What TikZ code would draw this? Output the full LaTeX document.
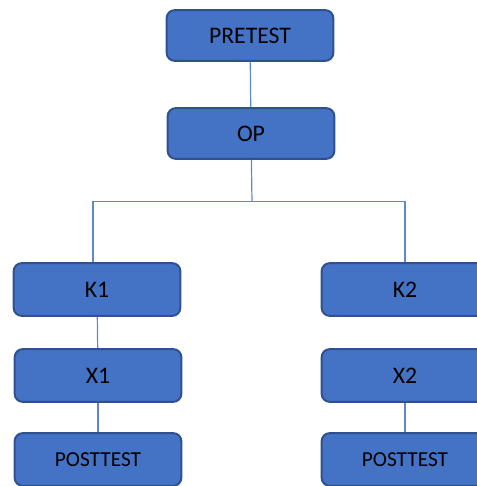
\documentclass[tikz,border=0pt]{standalone}
\usepackage{fontspec}
\setmainfont{Carlito}
\definecolor{boxblue}{HTML}{4472C4}
\definecolor{boxedge}{HTML}{2F528F}
\tikzset{stage/.style={draw=boxedge,fill=boxblue,line width=1.5pt,rounded corners=6pt,minimum width=125pt,minimum height=38pt,inner sep=0pt,font=\fontsize{17.8}{20}\selectfont},
small/.style={font=\fontsize{16}{18}\selectfont},
link/.style={draw=boxblue!85,line width=0.9pt}}

\begin{document}
\begin{tikzpicture}[x=0.75pt,y=-0.75pt]
\useasboundingbox (0,0) rectangle (477,486);
% Pré-test, puis OP qui se partage en deux branches K1 et K2.
\node[stage] (pre) at (250,35.5) {PRETEST};
\node[stage] (op) at (251,133.5) {OP};
\node[stage,minimum height=39.5pt] (k1) at (97,289.5) {K1};
\node[stage,minimum height=39.5pt] (k2) at (405,289.5) {K2};
\node[stage,minimum height=39.5pt] (x1) at (98,375.5) {X1};
\node[stage,minimum height=39.5pt] (x2) at (405,375.5) {X2};
\node[stage,small,minimum height=39.5pt] (post1) at (98,459.5) {POSTTEST};
\node[stage,small,minimum height=39.5pt] (post2) at (405,459.5) {POSTTEST};
\coordinate (split) at (252,201.5);
\draw[link] (pre) -- (op);
\draw[link] (op) -- (split);
\draw[link] (split) -| ([xshift=-3pt]k1.north);
\draw[link] (split) -| (k2.north);
\draw[link] (k1) -- (x1);
\draw[link] (x1) -- (post1);
\draw[link] (x2) -- (post2);
\end{tikzpicture}
\end{document}
